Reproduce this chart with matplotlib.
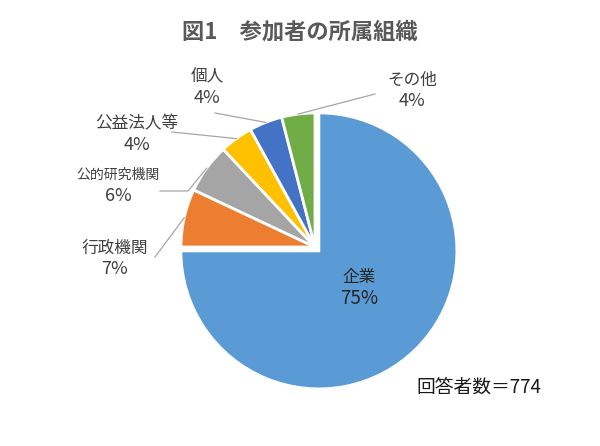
import numpy as np
import matplotlib
matplotlib.use("Agg")
import matplotlib.pyplot as plt

plt.rcParams['font.family'] = ['Noto Sans CJK JP', 'DejaVu Sans']

# data
categories = ['企業', '行政機関', '公的研究機関', '公益法人等', '個人', 'その他']
shares = [75, 7, 6, 4, 4, 4]  # percent
n_resp = 774
colors = ['#5B9BD5', '#ED7D31', '#A5A5A5', '#FFC000', '#4472C4', '#70AD47']

# layout (pixel coords, y down) for the outside labels and leader-line ends
label_pos = {'行政機関': (115, 258), '公的研究機関': (118, 185), '公益法人等': (137, 134),
             '個人': (207, 87), 'その他': (412, 90)}
leader_end = {'行政機関': [(155, 257)], '公的研究機関': [(188, 191), (160, 191)],
              '公益法人等': [(172, 132)], '個人': [(215, 113)], 'その他': [(375, 94)]}
name_size = {'公的研究機関': 10}

W, H = 600, 446
fig = plt.figure(figsize=(W / 100, H / 100), dpi=100)
ax = fig.add_axes([0, 0, 1, 1])

def py(y):
    return H - y

R = 134
# matplotlib explode is in data units here (pixels)
explode = [5.5] + [0] * 5
wedges, _ = ax.pie(shares, colors=colors, startangle=90, counterclock=False,
                   radius=R, center=(315, py(247)), explode=explode,
                   wedgeprops=dict(edgecolor='white', linewidth=2))
wedges[0].set_radius(138)  # the big slice is drawn a little larger
ax.set_xlim(0, W)
ax.set_ylim(0, H)
ax.set_aspect('equal')
ax.axis('off')

txt_col = '#404040'
for w, cat, s in zip(wedges, categories, shares):
    mid = np.deg2rad((w.theta1 + w.theta2) / 2)
    cx, cy = w.center
    if cat == '企業':
        tx, ty = cx + 0.41 * w.r * np.cos(mid), cy + 0.41 * w.r * np.sin(mid)
        ax.text(tx, ty + 13, cat, ha='center', va='center', fontsize=12, color='#262626')
        ax.text(tx, ty - 8, f'{s}%', ha='center', va='center', fontsize=13.5, color='#262626')
        continue
    ex, ey = cx + w.r * np.cos(mid), cy + w.r * np.sin(mid)
    pts = [(ex, ey)] + [(x, py(y)) for x, y in leader_end[cat]]
    xs, ys = zip(*pts)
    ax.plot(xs, ys, color='#a6a6a6', lw=0.9)
    lx, ly = label_pos[cat]
    ax.text(lx, py(ly - 10), cat, ha='center', va='center',
            fontsize=name_size.get(cat, 12), color=txt_col)
    ax.text(lx, py(ly + 11), f'{s}%', ha='center', va='center', fontsize=13, color=txt_col)

ax.text(300, py(32), '図1\u3000参加者の所属組織', ha='center', va='center',
        fontsize=16, fontweight='bold', color='#595959')
ax.text(479, py(387), f'回答者数＝{n_resp}', ha='center', va='center',
        fontsize=13.5, color='#1a1a1a')

fig.savefig('out.png', dpi=100)
